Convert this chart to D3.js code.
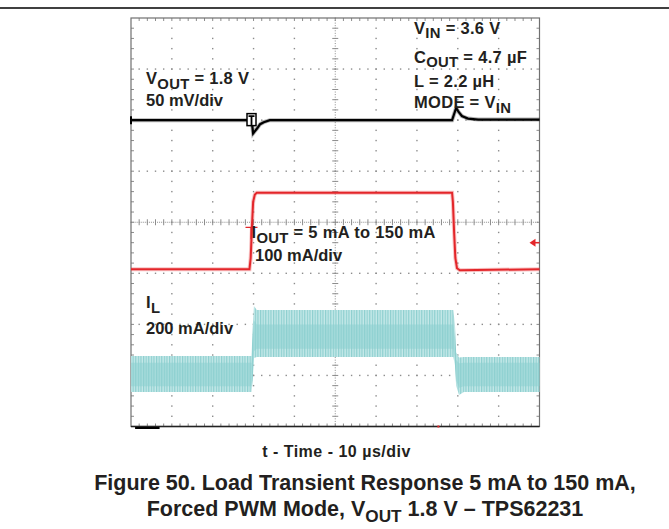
<!doctype html>
<html>
<head>
<meta charset="utf-8">
<script src="https://cdn.jsdelivr.net/npm/d3@7/dist/d3.min.js"></script>
<style>
  body { margin: 0; background: #fff; }
  text { font-family: "Liberation Sans", Arial, sans-serif; font-weight: bold; fill: #231f20; }
</style>
</head>
<body>
<div id="scope"></div>
<script>
// time base: 10 us/div, 10 divisions
var timeSpan = [0, 100];
var vDivs = 8;

// VOUT channel: deviation from 1.8 V in mV, 50 mV/div, sits at div 6
var voutT  = [0, 29.4, 29.7, 29.9, 30.3, 30.9, 31.6, 32.5, 34, 78.6, 79.1, 79.6, 80.2, 81, 82.5, 85, 100];
var voutMv = [0, 0, -6, -13, -11, -8, -4, -2, 0, 0, 6, 12, 8, 4, 1.5, 0.5, 0.5];

// IOUT channel: mA, 100 mA/div, zero at div 3
var ioutT  = [0, 29.0, 29.3, 29.6, 29.9, 30.3, 30.8, 78.6, 78.8, 79.1, 79.4, 79.8, 80.5, 100];
var ioutMa = [8, 8, 30, 90, 140, 154, 158, 158, 140, 80, 30, 10, 6, 8];

// IL channel: ripple envelope in mA, 200 mA/div, zero at div 1
var ilT     = [0, 29.5, 29.8, 30.1, 30.8, 78.9, 79.3, 79.6, 80.3, 81.5, 100];
var ilMax   = [76, 76, 190, 272, 256, 256, 200, 90, 70, 72, 72];
var ilMin   = [-65, -65, -20, 68, 72, 72, 40, -40, -77, -65, -65];
var ilInMax = [50, 50, 150, 215, 200, 200, 150, 60, 48, 50, 50];
var ilInMin = [-42, -42, 0, 95, 105, 105, 60, -20, -48, -42, -42];

var chan = {
  vout: {offset: 6, perDiv: 50},
  iout: {offset: 3, perDiv: 100},
  il:   {offset: 1, perDiv: 200}
};

var W = 669, H = 529;
var svg = d3.select("#scope").append("svg").attr("width", W).attr("height", H);

var x = d3.scaleLinear().domain(timeSpan).range([131, 539.5]);
var y = d3.scaleLinear().domain([0, vDivs]).range([426.5, 18]);
function cy(c, v) { return y(chan[c].offset + v / chan[c].perDiv); }

// top rule of the page
svg.append("line").attr("x1", 0).attr("x2", W).attr("y1", 8).attr("y2", 8)
  .attr("stroke", "#000").attr("stroke-width", 1.5);

// ---- graticule ----
var grid = svg.append("g");
var dotC = "#8c8c8c";
function dot(px, py, s) {
  grid.append("rect").attr("x", px - s / 2).attr("y", py - s / 2)
    .attr("width", s).attr("height", s).attr("fill", dotC);
}
// vertical major lines (minor-division dots)
d3.range(1, 10).forEach(function(i) {
  if (i === 5) return;
  d3.range(1, vDivs * 5).forEach(function(k) { dot(x(i * 10), y(k / 5), 1.4); });
});
// horizontal major lines
d3.range(1, vDivs).forEach(function(j) {
  if (j === 4) return;
  d3.range(1, 50).forEach(function(k) { dot(x(k * 2), y(j), 1.4); });
});
// center cross: dense dots + ticks
d3.range(0, 100.01, 0.5).forEach(function(t) { dot(x(t), y(4), 1); });
d3.range(0, vDivs + 0.001, 0.05).forEach(function(v) { dot(x(50), y(v), 1); });
d3.range(1, 50).forEach(function(k) {
  grid.append("line").attr("x1", x(k * 2)).attr("x2", x(k * 2))
    .attr("y1", y(4) - 3).attr("y2", y(4) + 3).attr("stroke", dotC).attr("stroke-width", 1);
});
d3.range(1, vDivs * 5).forEach(function(k) {
  grid.append("line").attr("x1", x(50) - 3).attr("x2", x(50) + 3)
    .attr("y1", y(k / 5)).attr("y2", y(k / 5)).attr("stroke", dotC).attr("stroke-width", 1);
});
// edge ticks
d3.range(1, 50).forEach(function(k) {
  grid.append("line").attr("x1", x(k * 2)).attr("x2", x(k * 2)).attr("y1", y(8)).attr("y2", y(8) + 3)
    .attr("stroke", dotC);
  grid.append("line").attr("x1", x(k * 2)).attr("x2", x(k * 2)).attr("y1", y(0)).attr("y2", y(0) - 3)
    .attr("stroke", dotC);
});
d3.range(1, vDivs * 5).forEach(function(k) {
  grid.append("line").attr("x1", x(0)).attr("x2", x(0) + 3).attr("y1", y(k / 5)).attr("y2", y(k / 5))
    .attr("stroke", dotC);
  grid.append("line").attr("x1", x(100)).attr("x2", x(100) - 3).attr("y1", y(k / 5)).attr("y2", y(k / 5))
    .attr("stroke", dotC);
});
grid.append("rect").attr("x", x(0)).attr("y", y(8)).attr("width", x(100) - x(0)).attr("height", y(0) - y(8))
  .attr("fill", "none").attr("stroke", "#707070").attr("stroke-width", 1.2);
grid.append("line").attr("x1", x(0)).attr("x2", x(100)).attr("y1", y(0)).attr("y2", y(0))
  .attr("stroke", "#222").attr("stroke-width", 1.4);

// ---- IL band ----
var defs = svg.append("defs");
var pat = defs.append("pattern").attr("id", "ilHatch").attr("patternUnits", "userSpaceOnUse")
  .attr("width", 2.6).attr("height", 10);
pat.append("rect").attr("width", 2.6).attr("height", 10).attr("fill", "#c6e9e9");
pat.append("rect").attr("width", 1.2).attr("height", 10).attr("fill", "#8dcfcf");

var ilRows = ilT.map(function(t, i) {
  return {t: t, hi: ilMax[i], lo: ilMin[i], ihi: ilInMax[i], ilo: ilInMin[i]};
});
var outer = d3.area().x(function(d) { return x(d.t); })
  .y0(function(d) { return cy("il", d.lo); }).y1(function(d) { return cy("il", d.hi); });
var inner = d3.area().x(function(d) { return x(d.t); })
  .y0(function(d) { return cy("il", d.ilo); }).y1(function(d) { return cy("il", d.ihi); });
svg.append("path").datum(ilRows).attr("d", outer).attr("fill", "url(#ilHatch)");
svg.append("path").datum(ilRows).attr("d", inner).attr("fill", "#8ccfcf").attr("opacity", 0.55);

// ---- IOUT trace ----
var ioutRows = ioutT.map(function(t, i) { return {t: t, v: ioutMa[i]}; });
var ioutLine = d3.line().x(function(d) { return x(d.t); }).y(function(d) { return cy("iout", d.v); });
svg.append("path").datum(ioutRows).attr("d", ioutLine).attr("fill", "none")
  .attr("stroke", "#e8383a").attr("stroke-width", 4).attr("opacity", 0.3);
svg.append("path").datum(ioutRows).attr("d", ioutLine).attr("fill", "none")
  .attr("stroke", "#e3262a").attr("stroke-width", 2);

// ---- VOUT trace ----
var voutRows = voutT.map(function(t, i) { return {t: t, v: voutMv[i]}; });
var voutLine = d3.line().x(function(d) { return x(d.t); }).y(function(d) { return cy("vout", d.v); });
svg.append("path").datum(voutRows).attr("d", voutLine).attr("fill", "none")
  .attr("stroke", "#000").attr("stroke-width", 4).attr("opacity", 0.3);
svg.append("path").datum(voutRows).attr("d", voutLine).attr("fill", "none")
  .attr("stroke", "#000").attr("stroke-width", 2.2);

// ---- scope markers ----
var trigT = 29.5;
var mk = svg.append("g");
mk.append("rect").attr("x", x(trigT) - 4.5).attr("y", cy("vout", 0) - 6.5).attr("width", 9).attr("height", 12)
  .attr("fill", "#fff").attr("stroke", "#000").attr("stroke-width", 1.5);
mk.append("path").attr("d", "M" + (x(trigT) - 3) + "," + (cy("vout", 0) - 4) + "h6M" + x(trigT) + "," + (cy("vout", 0) - 4) + "v9")
  .attr("stroke", "#000").attr("stroke-width", 1.8);
mk.append("line").attr("x1", x(0)).attr("x2", x(0)).attr("y1", cy("vout", 0) - 4).attr("y2", cy("vout", 0) + 4)
  .attr("stroke", "#000").attr("stroke-width", 2);
// IOUT trigger marks
mk.append("path").attr("d", "M" + (x(trigT) - 6) + "," + cy("iout", 90) + "h12M" + (x(trigT) - 0.5) + "," + cy("iout", 90) + "v12")
  .attr("stroke", "#e3262a").attr("stroke-width", 1.2).attr("fill", "none");
var lvl = cy("iout", 60);
mk.append("path").attr("d", "M" + (x(100) - 10) + "," + lvl + "l6,-4v8z").attr("fill", "#e3262a");
mk.append("line").attr("x1", x(100) - 5).attr("x2", x(100)).attr("y1", lvl).attr("y2", lvl)
  .attr("stroke", "#e3262a").attr("stroke-width", 1.5);
mk.append("line").attr("x1", x(1)).attr("x2", x(7)).attr("y1", y(0) + 1.5).attr("y2", y(0) + 1.5)
  .attr("stroke", "#000").attr("stroke-width", 2);
mk.append("rect").attr("x", x(75)).attr("y", y(0) - 1).attr("width", 2).attr("height", 2).attr("fill", "#e3262a");

// ---- labels ----
function label(px, py, parts, size, anchor, ls, sub) {
  var t = svg.append("text").attr("x", px).attr("y", py).attr("font-size", size)
    .attr("text-anchor", anchor || "start").attr("letter-spacing", ls || 0);
  parts.forEach(function(p) {
    var s = t.append("tspan").text(p[0]);
    if (p[1]) s.attr("font-size", size * (sub || 0.9)).attr("dy", size * 0.3);
    else if (p[2]) s.attr("dy", -size * 0.3);
  });
  return t;
}
var fs = 16.5, ls = 0.3;
label(146, 84, [["V"], ["OUT", 1], [" = 1.8 V", 0, 1]], fs, "start", ls);
label(146, 106, [["50 mV/div"]], fs, "start", 0);
label(414, 33.5, [["V"], ["IN", 1], [" = 3.6 V", 0, 1]], fs, "start", ls);
label(414, 62.5, [["C"], ["OUT", 1], [" = 4.7 \u00b5F", 0, 1]], fs, "start", ls);
label(414, 87, [["L = 2.2 \u00b5H"]], fs, "start", ls);
label(414, 108, [["MODE = V"], ["IN", 1]], fs, "start", ls);
label(251.5, 238, [["I"], ["OUT", 1], [" = 5 mA to 150 mA", 0, 1]], fs, "start", ls);
label(255, 260.5, [["100 mA/div"]], fs, "start", 0);
label(146, 308, [["I"], ["L", 1]], fs, "start", ls);
label(146, 334, [["200 mA/div"]], fs, "start", 0);
label(336.5, 457, [["t - Time - 10 \u00b5s/div"]], 16, "middle", 0.5);
label(365, 490, [["Figure 50. Load Transient Response 5 mA to 150 mA,"]], 21.5, "middle");
label(365, 516, [["Forced PWM Mode, V"], ["OUT", 1], [" 1.8 V \u2013 TPS62231", 0, 1]], 21.5, "middle", 0, 0.8);
</script>
</body>
</html>
